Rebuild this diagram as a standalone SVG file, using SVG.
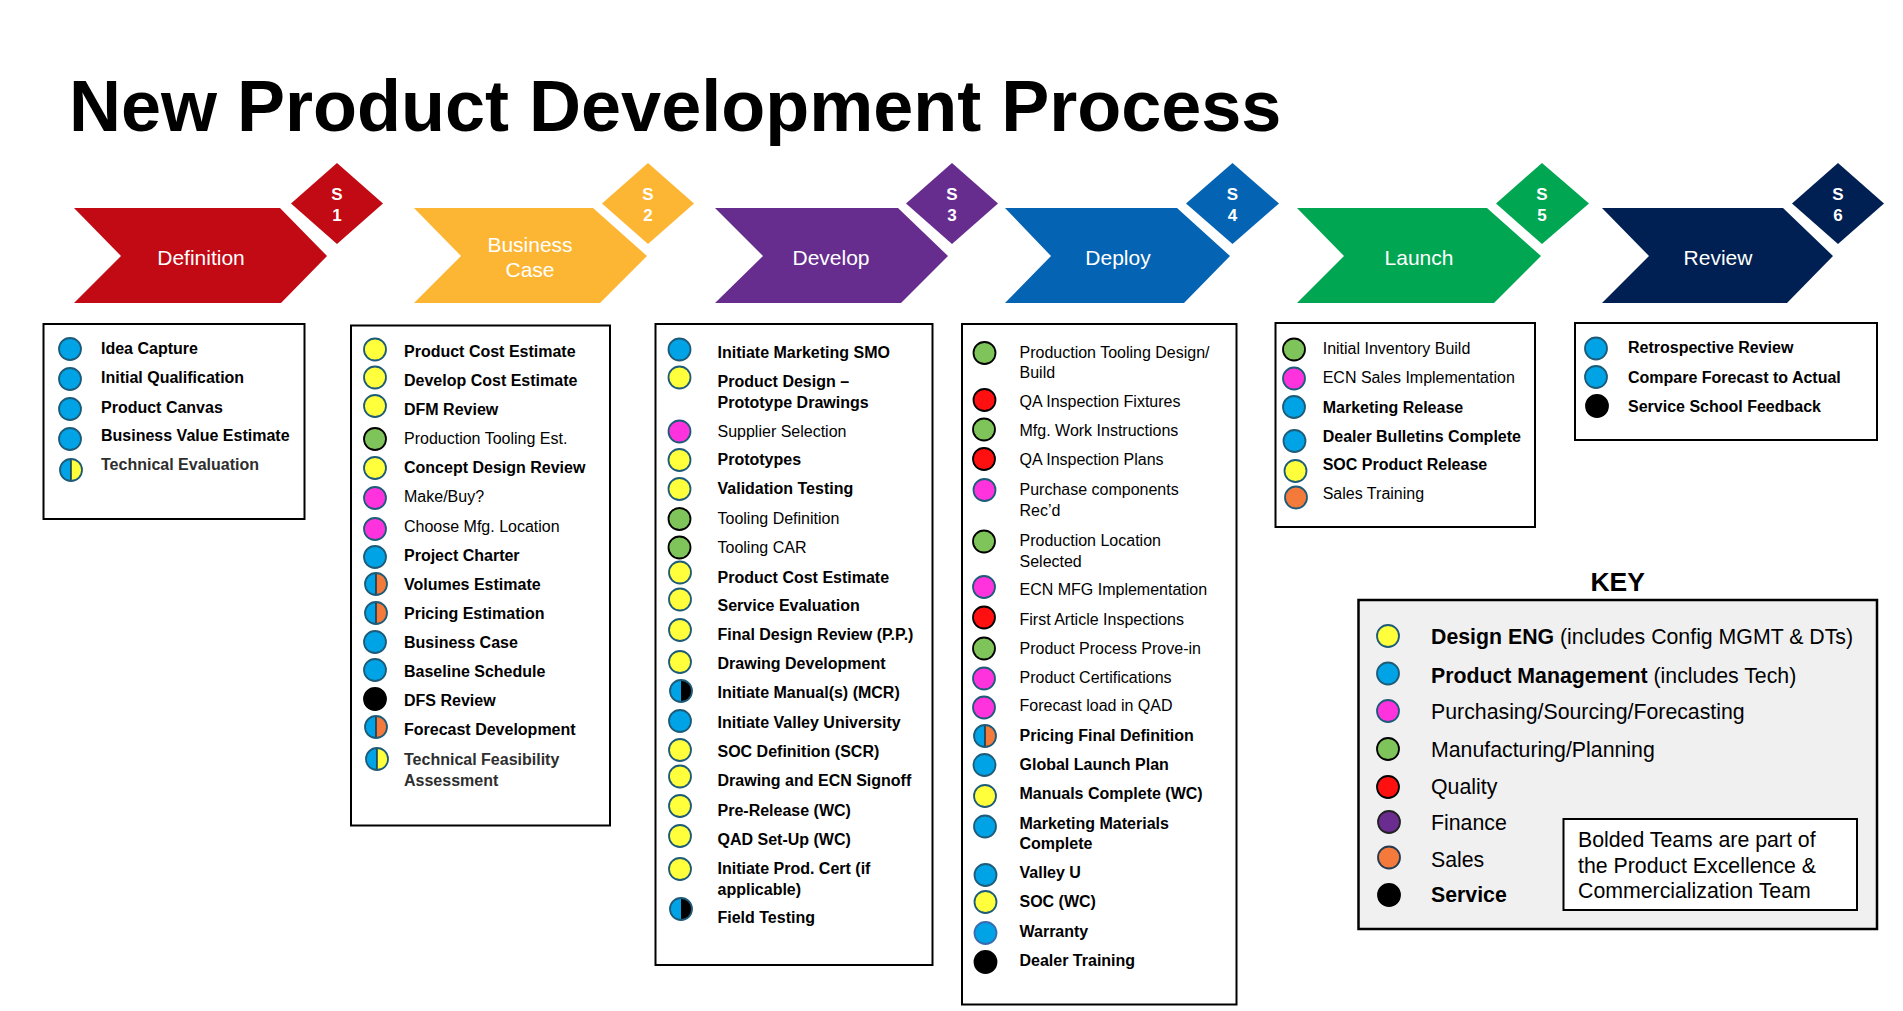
<svg xmlns="http://www.w3.org/2000/svg" xmlns:xlink="http://www.w3.org/1999/xlink" width="1903" height="1011" viewBox="0 0 1903 1011">
<style>
text{font-family:"Liberation Sans",Arial,sans-serif}
.title{font-size:72px;font-weight:bold;fill:#000}
.stage{font-size:21px;fill:#fff;text-anchor:middle}
.sn{font-size:17px;font-weight:bold;fill:#fff;text-anchor:middle}
.b{font-size:16px;font-weight:bold;fill:#000}
.r{font-size:16px;fill:#000}
.gr{fill:#2e2e2e}
.box{fill:#fff;stroke:#000;stroke-width:2}
.kbox{fill:#f0f0f0;stroke:#000;stroke-width:2.5}
.k{font-size:21.3px;fill:#000}
.kb{font-weight:bold}
.c{stroke-width:1.8}
.cb{fill:#00a3e6;stroke:#1d5b78}
.cy{fill:#ffff3c;stroke:#1d5b78}
.cm{fill:#ff33dd;stroke:#1d5b78}
.cg{fill:#7ec45a;stroke:#000}
.cr{fill:#ff1010;stroke:#000}
.ck{fill:#000;stroke:#000}
.co{fill:#f47a3c;stroke:#1d5b78}
.cp{fill:#6a2c8e;stroke:#222}
</style>
<defs>
<g id="hbo"><path d="M0,-11A11,11 0 0 0 0,11Z" fill="#00a3e6"/><path d="M0,-11A11,11 0 0 1 0,11Z" fill="#f47a3c"/><line x1="0" y1="-11" x2="0" y2="11" stroke="#1d3040" stroke-width="1.5"/><circle r="11" fill="none" stroke="#1d5b78" stroke-width="1.8"/></g>
<g id="hby"><path d="M0,-11A11,11 0 0 0 0,11Z" fill="#00a3e6"/><path d="M0,-11A11,11 0 0 1 0,11Z" fill="#ffff3c"/><line x1="0" y1="-11" x2="0" y2="11" stroke="#1d3040" stroke-width="1.5"/><circle r="11" fill="none" stroke="#1d5b78" stroke-width="1.8"/></g>
<g id="hbk"><path d="M0,-11A11,11 0 0 0 0,11Z" fill="#00a3e6"/><path d="M0,-11A11,11 0 0 1 0,11Z" fill="#000"/><circle r="11" fill="none" stroke="#1d5b78" stroke-width="1.8"/></g>
</defs>
<rect width="1903" height="1011" fill="#fff"/>
<text class="title" x="69" y="131">New Product Development Process</text>

<g id="stage-definition">
<polygon points="74,208 280,208 327,256 281,303 74,303 121,256" fill="#c10a14"/>
<polygon points="337,163 383,203.5 337,244 291,203.5" fill="#c10a14"/>
<text class="sn" x="337" y="199.5">S</text><text class="sn" x="337" y="221">1</text>
<text class="stage" x="201" y="264.5">Definition</text>
</g>
<g id="stage-business">
<polygon points="414,208 593,208 647,256 600,303 414,303 461,256" fill="#fdb633"/>
<polygon points="648,163 694,203.5 648,244 602,203.5" fill="#fdb633"/>
<text class="sn" x="648" y="199.5">S</text><text class="sn" x="648" y="221">2</text>
<text class="stage" x="530" y="251.5">Business</text><text class="stage" x="530" y="276.5">Case</text>
</g>
<g id="stage-develop">
<polygon points="715,208 898,208 948,256 901,303 715,303 763,256" fill="#662d8f"/>
<polygon points="952,163 998,203.5 952,244 906,203.5" fill="#662d8f"/>
<text class="sn" x="952" y="199.5">S</text><text class="sn" x="952" y="221">3</text>
<text class="stage" x="831" y="264.5">Develop</text>
</g>
<g id="stage-deploy">
<polygon points="1005,208 1177,208 1230,256 1184,303 1005,303 1051,256" fill="#0563b4"/>
<polygon points="1232.5,163 1279,203.5 1232.5,244 1186,203.5" fill="#0563b4"/>
<text class="sn" x="1232.5" y="199.5">S</text><text class="sn" x="1232.5" y="221">4</text>
<text class="stage" x="1118" y="264.5">Deploy</text>
</g>
<g id="stage-launch">
<polygon points="1297,208 1487,208 1541,256 1494,303 1297,303 1344,256" fill="#00a651"/>
<polygon points="1542,163 1589,203.5 1542,244 1496,203.5" fill="#00a651"/>
<text class="sn" x="1542" y="199.5">S</text><text class="sn" x="1542" y="221">5</text>
<text class="stage" x="1419" y="264.5">Launch</text>
</g>
<g id="stage-review">
<polygon points="1602,208 1783,208 1833,256 1787,303 1602,303 1649,256" fill="#002054"/>
<polygon points="1838,163 1884,203.5 1838,244 1792,203.5" fill="#002054"/>
<text class="sn" x="1838" y="199.5">S</text><text class="sn" x="1838" y="221">6</text>
<text class="stage" x="1718" y="264.5">Review</text>
</g>

<g id="list-definition">
<rect class="box" x="43.5" y="324" width="261" height="195"/>
<circle class="c cb" cx="70" cy="349" r="11"/><text class="b" x="101" y="354">Idea Capture</text>
<circle class="c cb" cx="70" cy="379" r="11"/><text class="b" x="101" y="383">Initial Qualification</text>
<circle class="c cb" cx="70" cy="409" r="11"/><text class="b" x="101" y="412.5">Product Canvas</text>
<circle class="c cb" cx="70" cy="439" r="11"/><text class="b" x="101" y="441">Business Value Estimate</text>
<use xlink:href="#hby" x="71" y="470"/><text class="b gr" x="101" y="470">Technical Evaluation</text>
</g>

<g id="list-business">
<rect class="box" x="351" y="325.5" width="259" height="500"/>
<circle class="c cy" cx="375" cy="349.5" r="11"/><text class="b" x="404" y="357">Product Cost Estimate</text>
<circle class="c cy" cx="375" cy="377.5" r="11"/><text class="b" x="404" y="386">Develop Cost Estimate</text>
<circle class="c cy" cx="375" cy="406" r="11"/><text class="b" x="404" y="415">DFM Review</text>
<circle class="c cg" cx="375" cy="439" r="11"/><text class="r" x="404" y="444">Production Tooling Est.</text>
<circle class="c cy" cx="375" cy="468" r="11"/><text class="b" x="404" y="473">Concept Design Review</text>
<circle class="c cm" cx="375" cy="498" r="11"/><text class="r" x="404" y="502">Make/Buy?</text>
<circle class="c cm" cx="375" cy="529" r="11"/><text class="r" x="404" y="532">Choose Mfg. Location</text>
<circle class="c cb" cx="375" cy="557" r="11"/><text class="b" x="404" y="561">Project Charter</text>
<use xlink:href="#hbo" x="376" y="584"/><text class="b" x="404" y="590">Volumes Estimate</text>
<use xlink:href="#hbo" x="376" y="613"/><text class="b" x="404" y="619">Pricing Estimation</text>
<circle class="c cb" cx="375" cy="642" r="11"/><text class="b" x="404" y="648">Business Case</text>
<circle class="c cb" cx="375" cy="670" r="11"/><text class="b" x="404" y="677">Baseline Schedule</text>
<circle class="c ck" cx="375" cy="699" r="11"/><text class="b" x="404" y="706">DFS Review</text>
<use xlink:href="#hbo" x="376" y="727"/><text class="b" x="404" y="735">Forecast Development</text>
<use xlink:href="#hby" x="377" y="759"/><text class="b gr" x="404" y="765">Technical Feasibility</text><text class="b gr" x="404" y="786">Assessment</text>
</g>

<g id="list-develop">
<rect class="box" x="655.5" y="324" width="277" height="641"/>
<circle class="c cb" cx="679.5" cy="349.5" r="11"/><text class="b" x="717.5" y="357.5">Initiate Marketing SMO</text>
<circle class="c cy" cx="679.5" cy="377.5" r="11"/><text class="b" x="717.5" y="386.5">Product Design –</text><text class="b" x="717.5" y="407.5">Prototype Drawings</text>
<circle class="c cm" cx="679.5" cy="431.5" r="11"/><text class="r" x="717.5" y="436.5">Supplier Selection</text>
<circle class="c cy" cx="679.5" cy="460" r="11"/><text class="b" x="717.5" y="465">Prototypes</text>
<circle class="c cy" cx="679.5" cy="489" r="11"/><text class="b" x="717.5" y="494">Validation Testing</text>
<circle class="c cg" cx="679.5" cy="519" r="11"/><text class="r" x="717.5" y="524">Tooling Definition</text>
<circle class="c cg" cx="679.5" cy="547.5" r="11"/><text class="r" x="717.5" y="553">Tooling CAR</text>
<circle class="c cy" cx="680" cy="572.5" r="11"/><text class="b" x="717.5" y="582.5">Product Cost Estimate</text>
<circle class="c cy" cx="680" cy="599.5" r="11"/><text class="b" x="717.5" y="611">Service Evaluation</text>
<circle class="c cy" cx="680" cy="630" r="11"/><text class="b" x="717.5" y="640">Final Design Review (P.P.)</text>
<circle class="c cy" cx="680" cy="662" r="11"/><text class="b" x="717.5" y="669">Drawing Development</text>
<use xlink:href="#hbk" x="681" y="691"/><text class="b" x="717.5" y="698">Initiate Manual(s) (MCR)</text>
<circle class="c cb" cx="680" cy="721" r="11"/><text class="b" x="717.5" y="727.5">Initiate Valley University</text>
<circle class="c cy" cx="680" cy="750" r="11"/><text class="b" x="717.5" y="757">SOC Definition (SCR)</text>
<circle class="c cy" cx="680" cy="776.5" r="11"/><text class="b" x="717.5" y="786">Drawing and ECN Signoff</text>
<circle class="c cy" cx="680" cy="806" r="11"/><text class="b" x="717.5" y="815.5">Pre-Release (WC)</text>
<circle class="c cy" cx="680" cy="836" r="11"/><text class="b" x="717.5" y="844.5">QAD Set-Up (WC)</text>
<circle class="c cy" cx="680" cy="869" r="11"/><text class="b" x="717.5" y="873.5">Initiate Prod. Cert (if</text><text class="b" x="717.5" y="894.5">applicable)</text>
<use xlink:href="#hbk" x="681" y="909"/><text class="b" x="717.5" y="922.5">Field Testing</text>
</g>

<g id="list-deploy">
<rect class="box" x="962" y="324" width="274.5" height="680.5"/>
<circle class="c cg" cx="984.5" cy="353" r="11"/><text class="r" x="1019.5" y="357.5">Production Tooling Design/</text><text class="r" x="1019.5" y="378">Build</text>
<circle class="c cr" cx="984.5" cy="400" r="11"/><text class="r" x="1019.5" y="407">QA Inspection Fixtures</text>
<circle class="c cg" cx="984" cy="429.5" r="11"/><text class="r" x="1019.5" y="436">Mfg. Work Instructions</text>
<circle class="c cr" cx="984" cy="459" r="11"/><text class="r" x="1019.5" y="465">QA Inspection Plans</text>
<circle class="c cm" cx="984.5" cy="490" r="11"/><text class="r" x="1019.5" y="494.5">Purchase components</text><text class="r" x="1019.5" y="515.5">Rec’d</text>
<circle class="c cg" cx="984" cy="541.5" r="11"/><text class="r" x="1019.5" y="545.5">Production Location</text><text class="r" x="1019.5" y="566.5">Selected</text>
<circle class="c cm" cx="984" cy="587" r="11"/><text class="r" x="1019.5" y="595">ECN MFG Implementation</text>
<circle class="c cr" cx="984" cy="617.5" r="11"/><text class="r" x="1019.5" y="624.5">First Article Inspections</text>
<circle class="c cg" cx="984" cy="648.5" r="11"/><text class="r" x="1019.5" y="653.5">Product Process Prove-in</text>
<circle class="c cm" cx="984" cy="678.5" r="11"/><text class="r" x="1019.5" y="682.5">Product Certifications</text>
<circle class="c cm" cx="984" cy="707.5" r="11"/><text class="r" x="1019.5" y="711">Forecast load in QAD</text>
<use xlink:href="#hbo" x="985" y="736"/><text class="b" x="1019.5" y="741">Pricing Final Definition</text>
<circle class="c cb" cx="984.5" cy="765" r="11"/><text class="b" x="1019.5" y="770">Global Launch Plan</text>
<circle class="c cy" cx="985" cy="796" r="11"/><text class="b" x="1019.5" y="799">Manuals Complete (WC)</text>
<circle class="c cb" cx="985" cy="826.5" r="11"/><text class="b" x="1019.5" y="828.5">Marketing Materials</text><text class="b" x="1019.5" y="849">Complete</text>
<circle class="c cb" cx="985.5" cy="875" r="11"/><text class="b" x="1019.5" y="878">Valley U</text>
<circle class="c cy" cx="985.5" cy="902" r="11"/><text class="b" x="1019.5" y="907">SOC (WC)</text>
<circle class="c cb" cx="985.5" cy="933" r="11" style="stroke:#3a6ab0"/><text class="b" x="1019.5" y="936.5">Warranty</text>
<circle class="c ck" cx="985.5" cy="962" r="11"/><text class="b" x="1019.5" y="966">Dealer Training</text>
</g>

<g id="list-launch">
<rect class="box" x="1275.5" y="323" width="259.5" height="204"/>
<circle class="c cg" cx="1294" cy="349.5" r="11"/><text class="r" x="1322.7" y="354">Initial Inventory Build</text>
<circle class="c cm" cx="1294" cy="378.5" r="11"/><text class="r" x="1322.7" y="383">ECN Sales Implementation</text>
<circle class="c cb" cx="1294" cy="407" r="11"/><text class="b" x="1322.7" y="412.5">Marketing Release</text>
<circle class="c cb" cx="1294.5" cy="441" r="11"/><text class="b" x="1322.7" y="441.5">Dealer Bulletins Complete</text>
<circle class="c cy" cx="1295.5" cy="471" r="11"/><text class="b" x="1322.7" y="470">SOC Product Release</text>
<circle class="c co" cx="1296" cy="497.5" r="11"/><text class="r" x="1322.7" y="499">Sales Training</text>
</g>

<g id="list-review">
<rect class="box" x="1575" y="323" width="302" height="117"/>
<circle class="c cb" cx="1596" cy="348.5" r="11"/><text class="b" x="1628" y="353">Retrospective Review</text>
<circle class="c cb" cx="1596" cy="377" r="11"/><text class="b" x="1628" y="382.5">Compare Forecast to Actual</text>
<circle class="c ck" cx="1597" cy="406" r="11"/><text class="b" x="1628" y="411.5">Service School Feedback</text>
</g>

<g id="key">
<text x="1617.7" y="590.5" style="font-size:26.5px;font-weight:bold;text-anchor:middle">KEY</text>
<rect class="kbox" x="1358.5" y="600" width="518.5" height="329"/>
<circle class="c cy" cx="1388" cy="636" r="11"/><text class="k" x="1431" y="644"><tspan class="kb">Design ENG</tspan> (includes Config MGMT &amp; DTs)</text>
<circle class="c cb" cx="1388" cy="673.5" r="11"/><text class="k" x="1431" y="682.5"><tspan class="kb">Product Management</tspan> (includes Tech)</text>
<circle class="c cm" cx="1388" cy="711" r="11"/><text class="k" x="1431" y="719">Purchasing/Sourcing/Forecasting</text>
<circle class="c cg" cx="1388" cy="749" r="11"/><text class="k" x="1431" y="756.5">Manufacturing/Planning</text>
<circle class="c cr" cx="1388" cy="787" r="11"/><text class="k" x="1431" y="794">Quality</text>
<circle class="c cp" cx="1389" cy="822" r="11"/><text class="k" x="1431" y="830">Finance</text>
<circle class="c co" cx="1389" cy="857.5" r="11" style="stroke:#243a50"/><text class="k" x="1431" y="866.5">Sales</text>
<circle class="c ck" cx="1389" cy="895" r="11"/><text class="k kb" x="1431" y="901.5">Service</text>
<rect x="1563.5" y="819" width="293.5" height="91" fill="#fff" stroke="#000" stroke-width="2"/>
<text class="k" x="1578" y="847">Bolded Teams are part of</text>
<text class="k" x="1578" y="872.5">the Product Excellence &amp;</text>
<text class="k" x="1578" y="897.5">Commercialization Team</text>
</g>

<g id="connectors"/>
</svg>
